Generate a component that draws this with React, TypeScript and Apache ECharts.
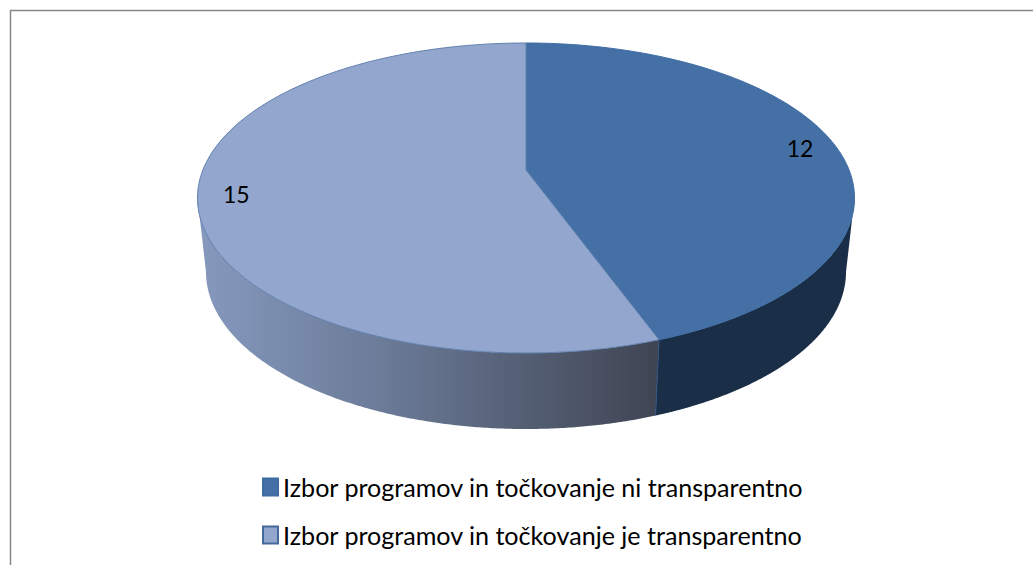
import React, { useEffect, useRef } from "react";
import * as echarts from "echarts";

const categories = [
  "Izbor programov in točkovanje ni transparentno",
  "Izbor programov in točkovanje je transparentno",
];
const values = [12, 15];

const topColors = ["#4470A6", "#93A7CE"];
const edgeColors = ["#3F6CA3", "#5F80AE"];
const TOP = { cx: 526, cy: 198, rx: 328.5, ry: 155 };
const BOTTOM = { cx: 526, cy: 272, rx: 320, ry: 157 };
const K = -0.18; // perspective shift of the pie's centre
const LABEL_R = 0.885;

const total = values.reduce((a, b) => a + b, 0);

function project(u: number, v: number) {
  const d = 1 + K * v;
  return { u: (u * Math.sqrt(1 - K * K)) / d, v: (v + K) / d };
}
function discAt(theta: number, r = 1) {
  return project(r * Math.sin(theta), -r * Math.cos(theta));
}
function onEllipse(e: typeof TOP, p: { u: number; v: number }) {
  return [e.cx + p.u * e.rx, e.cy + p.v * e.ry];
}
function renderSlice(index: number, value: number) {
  let before = 0;
  for (let i = 0; i < index; i++) before += values[i];
  const a0 = (before / total) * Math.PI * 2;
  const a1 = ((before + value) / total) * Math.PI * 2;
  const steps = 240;
  const topPts: number[][] = [onEllipse(TOP, project(0, 0))];
  let phi0 = 0;
  let phi1 = 0;
  let prev = -Infinity;
  for (let s = 0; s <= steps; s++) {
    const p = discAt(a0 + ((a1 - a0) * s) / steps);
    topPts.push(onEllipse(TOP, p));
    let phi = Math.atan2(p.v, p.u);
    while (phi < prev) phi += Math.PI * 2;
    prev = phi;
    if (s === 0) phi0 = phi;
    if (s === steps) phi1 = phi;
  }
  const from = Math.max(phi0, 0);
  const to = Math.min(phi1, Math.PI);
  const upper: number[][] = [];
  const lower: number[][] = [];
  for (let s = 0; s <= steps; s++) {
    const t = from + ((to - from) * s) / steps;
    const p = { u: Math.cos(t), v: Math.sin(t) };
    upper.push(onEllipse(TOP, p));
    lower.push(onEllipse(BOTTOM, p));
  }
  const sideFill =
    index === 0
      ? "#1A2E48"
      : new echarts.graphic.LinearGradient(0, 0, 1, 0, [
          { offset: 0, color: "#8699BE" },
          { offset: 0.4, color: "#6B7B98" },
          { offset: 1, color: "#3F4452" },
        ]);
  const mid = (a0 + a1) / 2;
  const labelPos = onEllipse(TOP, discAt(mid, LABEL_R));
  const children: any[] = [
    {
      type: "polygon",
      shape: { points: upper.concat(lower.slice().reverse()) },
      style: { fill: sideFill, stroke: "none" },
    },
    {
      type: "polygon",
      shape: { points: topPts },
      style: { fill: topColors[index], stroke: edgeColors[index], lineWidth: 1 },
    },
  ];
  if (index === 1) {
    children.push({
      type: "line",
      shape: {
        x1: upper[0][0],
        y1: upper[0][1],
        x2: lower[0][0],
        y2: lower[0][1],
      },
      style: { stroke: "#2F527F", lineWidth: 1 },
    });
  }
  children.push({
    type: "text",
    x: labelPos[0],
    y: labelPos[1],
    style: {
      text: String(value),
      fill: "#000000",
      font: "23px Lato",
      align: "center",
      verticalAlign: "middle",
    },
  });
  return { type: "group", children };
}

export default function App() {
  const ref = useRef<HTMLDivElement>(null);
  useEffect(() => {
    const chart = echarts.init(ref.current!, undefined, { renderer: "svg" });
    chart.setOption({
      animation: false,
      backgroundColor: "#ffffff",
      graphic: [
        {
          type: "rect",
          shape: { x: 10.5, y: 10.5, width: 1100, height: 700 },
          style: { fill: "none", stroke: "#868686", lineWidth: 1.5 },
          z: -1,
        },
      ],
      legend: {
        orient: "vertical",
        left: 257,
        top: 467,
        itemWidth: 15,
        itemHeight: 17,
        itemGap: 18,
        selectedMode: false,
        icon: "rect",
        data: categories,
        textStyle: { fontFamily: "Lato", fontSize: 25.1, color: "#000000", lineHeight: 30, padding: [0, 0, 0, 0] },
      },
      series: categories.map((name, i) => ({
        type: "custom",
        name,
        coordinateSystem: "none",
        silent: true,
        itemStyle: {
          color: topColors[i],
          borderColor: i === 0 ? "#3F6CA3" : "#46699B",
          borderWidth: 1.5,
        },
        data: [values[i]],
        renderItem: (_p: any, api: any) => renderSlice(i, api.value(0)),
      })),
    });
    return () => chart.dispose();
  }, []);
  return (
    <div
      ref={ref}
      style={{ position: "absolute", left: 0, top: 0, width: 1033, height: 565 }}
    />
  );
}
